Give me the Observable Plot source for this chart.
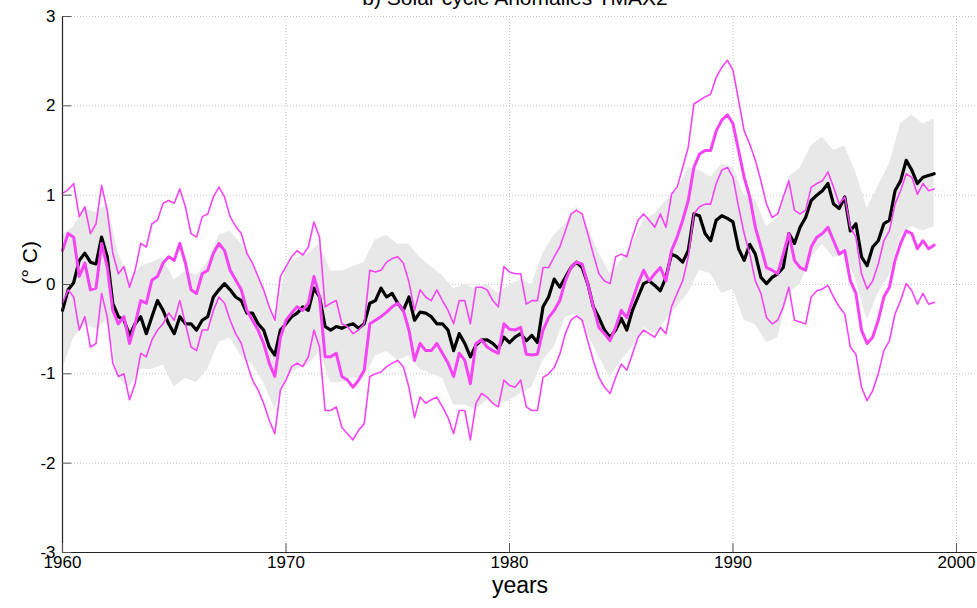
<!DOCTYPE html>
<html>
<head>
<meta charset="utf-8">
<script src="https://cdn.jsdelivr.net/npm/d3@7"></script>
<script src="https://cdn.jsdelivr.net/npm/@observablehq/plot@0.6"></script>
<style>
  html, body { margin: 0; padding: 0; background: #fff; }
  #chart { width: 977px; height: 608px; overflow: hidden; }
</style>
</head>
<body>
<div id="chart"></div>
<script>
const title = "b) Solar cycle Anomalies TMAX2";
const xLabel = "years";
const yLabel = "(° C)";
const xTicks = [1960, 1970, 1980, 1990, 2000];
const yTicks = [-3, -2, -1, 0, 1, 2, 3];

const years = [
1960,1960.25,1960.5,1960.75,1961,1961.25,1961.5,1961.75,1962,1962.25,1962.5,1962.75,
1963,1963.25,1963.5,1963.75,1964,1964.25,1964.5,1964.75,1965,1965.25,1965.5,1965.75,
1966,1966.25,1966.5,1966.75,1967,1967.25,1967.5,1967.75,1968,1968.25,1968.5,1968.75,
1969,1969.25,1969.5,1969.75,1970,1970.25,1970.5,1970.75,1971,1971.25,1971.5,1971.75,
1972,1972.25,1972.5,1972.75,1973,1973.25,1973.5,1973.75,1974,1974.25,1974.5,1974.75,
1975,1975.25,1975.5,1975.75,1976,1976.25,1976.5,1976.75,1977,1977.25,1977.5,1977.75,
1978,1978.25,1978.5,1978.75,1979,1979.25,1979.5,1979.75,1980,1980.25,1980.5,1980.75,
1981,1981.25,1981.5,1981.75,1982,1982.25,1982.5,1982.75,1983,1983.25,1983.5,1983.75,
1984,1984.25,1984.5,1984.75,1985,1985.25,1985.5,1985.75,1986,1986.25,1986.5,1986.75,
1987,1987.25,1987.5,1987.75,1988,1988.25,1988.5,1988.75,1989,1989.25,1989.5,1989.75,
1990,1990.25,1990.5,1990.75,1991,1991.25,1991.5,1991.75,1992,1992.25,1992.5,1992.75,
1993,1993.25,1993.5,1993.75,1994,1994.25,1994.5,1994.75,1995,1995.25,1995.5,1995.75,
1996,1996.25,1996.5,1996.75,1997,1997.25,1997.5,1997.75,1998,1998.25,1998.5,1998.75,
1999];

// black: observed anomaly
const observed = [
-0.29,-0.06,0.02,0.27, 0.35,0.25,0.23,0.53, 0.31,-0.21,-0.36,-0.40,
-0.57,-0.44,-0.36,-0.55, -0.36,-0.18,-0.29,-0.44, -0.55,-0.36,-0.44,-0.44,
-0.51,-0.40,-0.36,-0.14, -0.06,0.01,-0.06,-0.14, -0.18,-0.32,-0.32,-0.44,
-0.51,-0.70,-0.79,-0.51, -0.44,-0.36,-0.32,-0.25, -0.29,-0.04,-0.14,-0.47,
-0.51,-0.47,-0.49,-0.46, -0.44,-0.49,-0.44,-0.21, -0.18,-0.04,-0.14,-0.10,
-0.21,-0.29,-0.14,-0.40, -0.31,-0.32,-0.36,-0.44, -0.44,-0.51,-0.74,-0.55,
-0.66,-0.81,-0.68,-0.62, -0.62,-0.66,-0.72,-0.59, -0.65,-0.59,-0.55,-0.63,
-0.57,-0.65,-0.25,-0.14, 0.06,-0.03,0.08,0.19, 0.25,0.19,0.01,-0.25,
-0.37,-0.51,-0.59,-0.51, -0.38,-0.51,-0.29,-0.14, 0.01,0.04,-0.01,-0.07,
0.08,0.34,0.31,0.25, 0.38,0.79,0.77,0.57, 0.49,0.72,0.77,0.74,
0.70,0.40,0.27,0.45, 0.34,0.08,0.01,0.08, 0.12,0.19,0.57,0.46,
0.64,0.75,0.94,1.00, 1.05,1.13,0.90,0.85, 0.98,0.60,0.68,0.31,
0.21,0.42,0.49,0.68, 0.72,1.05,1.16,1.39, 1.28,1.13,1.20,1.22,
1.24];

// magenta thick: central estimate
const modelMid = [
0.38,0.57,0.53,0.09, 0.24,-0.06,-0.04,0.46, 0.20,-0.29,-0.44,-0.36,
-0.66,-0.44,-0.18,-0.21, 0.05,0.09,0.24,0.31, 0.27,0.46,0.24,-0.06,
-0.10,0.12,0.16,0.35, 0.46,0.38,0.16,0.05, -0.06,-0.29,-0.40,-0.51,
-0.66,-0.88,-1.03,-0.59, -0.40,-0.32,-0.25,-0.29, -0.21,0.09,-0.14,-0.81,
-0.81,-0.77,-1.03,-1.07, -1.15,-1.07,-0.96,-0.44, -0.40,-0.36,-0.31,-0.25,
-0.21,-0.29,-0.51,-0.85, -0.66,-0.74,-0.74,-0.66, -0.77,-0.88,-1.03,-0.77,
-0.85,-1.11,-0.66,-0.62, -0.70,-0.74,-0.77,-0.44, -0.50,-0.51,-0.48,-0.78,
-0.79,-0.78,-0.51,-0.37, -0.29,-0.18,0.04,0.19, 0.25,0.23,0.01,-0.25,
-0.48,-0.55,-0.63,-0.48, -0.29,-0.37,-0.18,0.01, 0.16,0.04,0.12,0.19,
0.04,0.38,0.53,0.72, 0.94,1.31,1.46,1.50, 1.50,1.72,1.84,1.90,
1.80,1.50,1.20,0.98, 0.64,0.42,0.19,0.16, 0.12,0.34,0.57,0.27,
0.19,0.16,0.42,0.53, 0.57,0.64,0.49,0.34, 0.38,0.04,-0.10,-0.51,
-0.66,-0.59,-0.40,-0.14, -0.03,0.27,0.46,0.60, 0.57,0.40,0.49,0.40,
0.44];

// magenta thin: upper bound
const modelHigh = [
1.02,1.06,1.13,0.76, 0.87,0.57,0.68,1.11, 0.83,0.35,0.12,0.20,
-0.03,0.16,0.46,0.42, 0.68,0.72,0.91,0.94, 0.91,1.07,0.87,0.57,
0.53,0.76,0.79,0.98, 1.09,0.98,0.76,0.65, 0.57,0.35,0.24,0.09,
-0.06,-0.25,-0.40,0.09, 0.20,0.31,0.38,0.33, 0.42,0.70,0.53,-0.25,
-0.21,-0.18,-0.44,-0.47, -0.55,-0.51,-0.44,0.16, 0.14,0.16,0.25,0.29,
0.31,0.24,0.03,-0.29, -0.06,-0.14,-0.18,-0.06, -0.18,-0.29,-0.44,-0.18,
-0.18,-0.44,-0.03,-0.03, -0.06,-0.18,-0.25,0.20, 0.14,0.12,0.12,-0.22,
-0.18,-0.18,0.19,0.19, 0.31,0.42,0.60,0.79, 0.83,0.79,0.57,0.34,
0.12,0.04,0.01,0.31, 0.34,0.31,0.53,0.72, 0.79,0.72,0.64,0.79,
0.64,1.01,1.09,1.31, 1.54,2.02,2.06,2.10, 2.13,2.32,2.43,2.51,
2.40,2.06,1.72,1.57, 1.39,1.16,0.90,0.75, 0.79,0.98,1.16,0.83,
0.79,0.83,1.09,1.13, 1.16,1.26,1.09,0.90, 0.98,0.64,0.53,0.12,
-0.05,0.04,0.23,0.49, 0.60,0.90,1.05,1.24, 1.20,1.01,1.13,1.05,
1.07];

// magenta thin: lower bound
const modelLow = [
-0.21,-0.06,-0.14,-0.51, -0.36,-0.70,-0.66,-0.10, -0.36,-0.88,-1.03,-1.00,
-1.29,-1.11,-0.77,-0.81, -0.62,-0.51,-0.44,-0.32, -0.40,-0.18,-0.44,-0.70,
-0.74,-0.51,-0.51,-0.29, -0.14,-0.21,-0.40,-0.55, -0.66,-0.88,-1.07,-1.18,
-1.33,-1.52,-1.67,-1.18, -1.07,-0.92,-0.88,-0.92, -0.81,-0.51,-0.70,-1.41,
-1.41,-1.37,-1.60,-1.67, -1.74,-1.63,-1.56,-1.03, -1.00,-0.98,-0.92,-0.88,
-0.85,-0.92,-1.15,-1.49, -1.26,-1.33,-1.29,-1.26, -1.37,-1.49,-1.67,-1.41,
-1.41,-1.74,-1.33,-1.22, -1.26,-1.33,-1.37,-1.07, -1.13,-1.15,-1.07,-1.37,
-1.41,-1.41,-1.04,-1.00, -0.93,-0.78,-0.55,-0.40, -0.35,-0.40,-0.63,-0.85,
-1.04,-1.15,-1.22,-1.04, -0.89,-0.96,-0.78,-0.59, -0.51,-0.55,-0.59,-0.48,
-0.55,-0.25,-0.10,0.04, 0.31,0.79,0.87,0.90, 0.90,1.13,1.28,1.31,
1.20,0.87,0.57,0.34, 0.04,-0.10,-0.37,-0.44, -0.40,-0.25,-0.03,-0.40,
-0.42,-0.44,-0.14,-0.07, -0.05,-0.01,-0.14,-0.25, -0.33,-0.70,-0.78,-1.15,
-1.30,-1.19,-1.00,-0.74, -0.63,-0.33,-0.18,0.01, -0.07,-0.22,-0.10,-0.22,
-0.20];

// grey envelope
const bandYears = [
1960,1960.5,1961,1961.5,1962,1962.5,1963,1963.5,1964,1964.5,
1965,1965.5,1966,1966.5,1967,1967.5,1968,1968.5,1969,1969.5,
1970,1970.5,1971,1971.5,1972,1972.5,1973,1973.5,1974,1974.5,
1975,1975.5,1976,1976.5,1977,1977.5,1978,1978.5,1979,1979.5,
1980,1980.5,1981,1981.5,1982,1982.5,1983,1983.5,1984,1984.5,
1985,1985.5,1986,1986.5,1987,1987.5,1988,1988.5,1989,1989.5,
1990,1990.5,1991,1991.5,1992,1992.5,1993,1993.5,1994,1994.5,
1995,1995.5,1996,1996.5,1997,1997.5,1998,1998.5,1999];
const bandHigh = [
0.55,0.65,0.85,0.80,0.90,0.35,0.05,0.20,0.25,0.30,
0.05,0.15,0.10,0.25,0.55,0.60,0.45,0.25,-0.05,-0.45,
0.20,0.30,0.35,0.45,0.15,0.15,0.20,0.25,0.50,0.55,
0.45,0.45,0.30,0.20,0.10,-0.05,0.00,-0.05,0.00,-0.10,
0.00,0.05,0.00,0.35,0.55,0.68,0.87,0.64,0.35,0.12,
0.27,0.46,0.72,0.79,0.94,1.05,1.31,1.28,1.20,1.35,
1.31,1.00,0.95,0.65,0.75,1.20,1.30,1.55,1.65,1.50,
1.55,1.25,0.85,1.10,1.35,1.80,1.90,1.80,1.85];
const bandLow = [
-0.95,-0.60,-0.45,-0.50,-0.40,-1.05,-1.15,-0.95,-0.95,-0.90,
-1.15,-1.05,-1.10,-0.95,-0.65,-0.60,-0.80,-0.90,-1.10,-1.40,
-1.05,-0.95,-0.90,-0.75,-1.10,-1.10,-1.05,-1.05,-0.80,-0.75,
-0.85,-0.80,-0.95,-1.00,-1.05,-1.35,-1.35,-1.40,-1.30,-1.35,
-1.30,-1.22,-1.15,-0.85,-0.70,-0.37,-0.33,-0.55,-0.81,-1.04,
-0.85,-0.70,-0.48,-0.55,-0.40,-0.25,-0.10,0.16,0.12,-0.10,
-0.05,-0.40,-0.45,-0.65,-0.60,-0.10,0.00,0.30,0.45,0.30,
0.35,0.05,-0.40,-0.10,0.10,0.55,0.65,0.60,0.65];

const lineRows = years.map((t, i) => ({t, obs: observed[i], mid: modelMid[i], hi: modelHigh[i], lo: modelLow[i]}));
const bandRows = bandYears.map((t, i) => ({t, hi: bandHigh[i], lo: bandLow[i]}));

const font = "'Liberation Sans', Arial, Helvetica, sans-serif";
const pink = "#f444f4";
const gridStyle = {stroke: "#c4c4c4", strokeOpacity: 1, strokeDasharray: "1,2", strokeWidth: 1};

const chart = Plot.plot({
  width: 977,
  height: 608,
  marginLeft: 62,
  marginRight: 0,
  marginTop: 16,
  marginBottom: 56,
  style: {fontFamily: font, fontSize: "17px", background: "#fff", color: "#000"},
  x: {domain: [1960, 2000.94], axis: null},
  y: {domain: [-3, 3], axis: null},
  marks: [
    Plot.gridY(yTicks, gridStyle),
    Plot.gridX(xTicks, gridStyle),
    Plot.areaY(bandRows, {x: "t", y1: "lo", y2: "hi", fill: "#e8e8e8"}),
    Plot.line(lineRows, {x: "t", y: "obs", stroke: "#000", strokeWidth: 3.2}),
    Plot.line(lineRows, {x: "t", y: "hi", stroke: pink, strokeWidth: 1.6}),
    Plot.line(lineRows, {x: "t", y: "lo", stroke: pink, strokeWidth: 1.6}),
    Plot.line(lineRows, {x: "t", y: "mid", stroke: pink, strokeWidth: 3}),
    Plot.ruleX([1960], {stroke: "#222", strokeWidth: 1.2}),
    Plot.ruleY([-3], {stroke: "#222", strokeWidth: 1.2}),
    Plot.ruleY(yTicks, {y: d => d, x1: 1960, x2: 1960.42, stroke: "#555"}),
    Plot.ruleX(xTicks, {x: d => d, y1: -3, y2: -2.9, stroke: "#555"}),
    Plot.text(yTicks, {y: d => d, text: d => String(d), frameAnchor: "left", dx: -7, textAnchor: "end", fontSize: 17, fill: "#000"}),
    Plot.text(xTicks, {x: d => d, text: d => String(d), frameAnchor: "bottom", dy: 15, fontSize: 17, fill: "#000"}),
    Plot.text([yLabel], {text: d => d, frameAnchor: "left", dx: -32, rotate: -90, fontSize: 21}),
    Plot.text([xLabel], {text: d => d, frameAnchor: "bottom", dy: 40, fontSize: 23}),
    Plot.text([title], {text: d => d, frameAnchor: "top", dx: -5, dy: -12, lineAnchor: "bottom", fontSize: 21})
  ]
});
document.getElementById("chart").appendChild(chart);
</script>
</body>
</html>
